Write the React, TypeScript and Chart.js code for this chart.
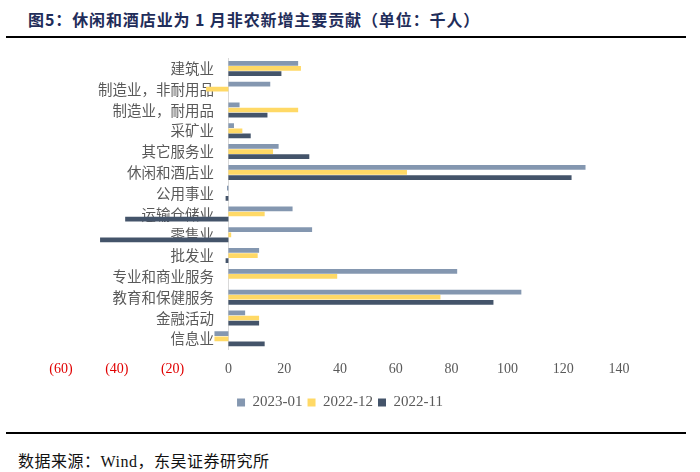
import React, { useEffect, useRef } from "react";
import { Chart, registerables } from "chart.js";

Chart.register(...registerables);

const categories = [
  "建筑业",
  "制造业，非耐用品",
  "制造业，耐用品",
  "采矿业",
  "其它服务业",
  "休闲和酒店业",
  "公用事业",
  "运输仓储业",
  "零售业",
  "批发业",
  "专业和商业服务",
  "教育和保健服务",
  "金融活动",
  "信息业",
];
const seriesNames = ["2023-01", "2022-12", "2022-11"];
const s2023_01 = [25, 15, 4, 2, 18, 128, -0.5, 23, 30, 11, 82, 105, 6, -5];
const s2022_12 = [26, -8, 25, 5, 16, 64, 0, 13, 1, 10.5, 39, 76, 11, -5];
const s2022_11 = [19, 0, 14, 8, 29, 123, -1, -37, -46, -1, 0, 95, 11, 13];
const xMin = -60;
const xMax = 140;
const xStep = 20;

const colors = ["#8497b0", "#ffd966", "#44546a"];

export default function App() {
  const ref = useRef<HTMLCanvasElement | null>(null);
  useEffect(() => {
    if (!ref.current) return;
    const chart = new Chart(ref.current, {
      type: "bar",
      data: {
        labels: categories,
        datasets: [s2023_01, s2022_12, s2022_11].map((d, i) => ({
          label: seriesNames[i],
          data: d,
          backgroundColor: colors[i],
          borderWidth: 0,
          barPercentage: 0.92,
          categoryPercentage: 0.74,
        })),
      },
      options: {
        indexAxis: "y",
        animation: false,
        responsive: false,
        maintainAspectRatio: false,
        layout: { padding: { left: 61, right: 81, top: 18, bottom: 8 } },
        plugins: {
          legend: {
            position: "bottom",
            labels: {
              boxWidth: 8,
              boxHeight: 8,
              padding: 5,
              color: "#595959",
              font: { family: "Liberation Serif", size: 15 },
            },
          },
          tooltip: { enabled: false },
        },
        scales: {
          x: {
            min: xMin,
            max: xMax,
            grid: { display: false, drawTicks: false },
            border: { display: false },
            ticks: {
              stepSize: xStep,
              padding: 12,
              maxRotation: 0,
              font: { family: "Liberation Serif", size: 14 },
              color: (ctx: any) => (ctx.tick && ctx.tick.value < 0 ? "#e00000" : "#595959"),
              callback: (v: any) => (Number(v) < 0 ? `(${Math.abs(Number(v))})` : `${v}`),
            },
          },
          y: {
            position: { x: 0 } as any,
            grid: { display: false, drawTicks: false },
            border: { display: true, color: "#d9d9d9", width: 1 },
            ticks: {
              color: "#595959",
              font: { family: "Noto Sans CJK SC", size: 14.5 },
              callback: function (this: any, v: any) {
                return this.getLabelForValue(v) + "\u3000";
              },
            },
          },
        },
      },
    });
    return () => chart.destroy();
  }, []);

  return (
    <div
      style={{
        position: "absolute",
        left: 0,
        top: 0,
        width: 700,
        height: 472,
        background: "#fff",
        overflow: "hidden",
      }}
    >
      <div
        style={{
          position: "absolute",
          left: 28,
          top: 7,
          fontFamily: "'Noto Sans CJK SC'",
          fontWeight: 700,
          fontSize: 16,
          letterSpacing: 0.9,
          color: "#1f2d5a",
          whiteSpace: "nowrap",
        }}
      >
        图5：休闲和酒店业为 1 月非农新增主要贡献（单位：千人）
      </div>
      <div
        style={{
          position: "absolute",
          left: 6,
          top: 36,
          width: 680,
          height: 2,
          background: "#000",
        }}
      />
      <canvas
        ref={ref}
        width={700}
        height={388}
        style={{ position: "absolute", left: 0, top: 40, width: 700, height: 388 }}
      />
      <div
        style={{
          position: "absolute",
          left: 6,
          top: 432,
          width: 680,
          height: 2,
          background: "#000",
        }}
      />
      <div
        style={{
          position: "absolute",
          left: 18,
          top: 448,
          fontFamily: "'Liberation Serif', 'Noto Sans CJK SC'",
          fontSize: 16,
          letterSpacing: 0.5,
          color: "#111",
          whiteSpace: "nowrap",
        }}
      >
        数据来源：Wind，东吴证券研究所
      </div>
    </div>
  );
}
